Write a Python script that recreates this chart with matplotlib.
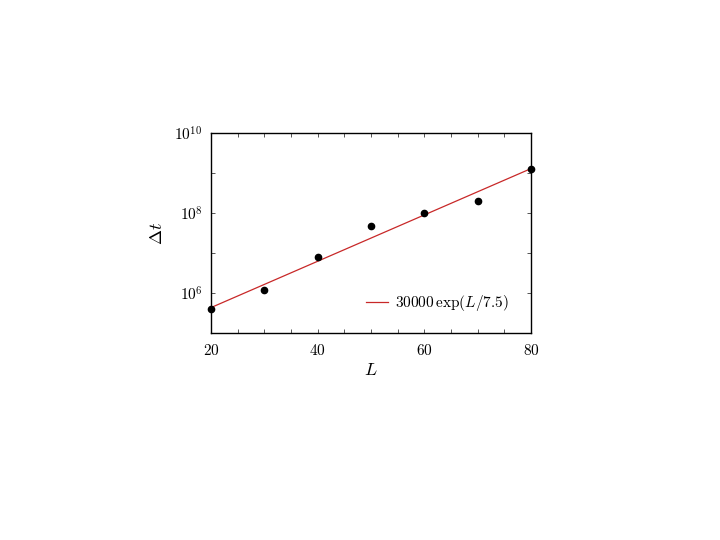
import numpy as np
import matplotlib
matplotlib.use("Agg")
import matplotlib.pyplot as plt
from matplotlib.ticker import FixedLocator, FixedFormatter

plt.rcParams['mathtext.fontset'] = 'cm'
plt.rcParams['font.family'] = 'serif'
plt.rcParams['font.serif'] = ['DejaVu Serif']

# data
L_vals = [20, 30, 40, 50, 60, 70, 80]
dt_vals = [4.0e5, 1.2e6, 7.8e6, 4.7e7, 1.02e8, 2.0e8, 1.26e9]

fit_amp = 30000
fit_scale = 7.5

x_ticks = [20, 40, 60, 80]
x_minor = [25, 30, 35, 45, 50, 55, 65, 70, 75]
y_ticks = [1e6, 1e8, 1e10]
y_minor = [1e7, 1e9]

fig = plt.figure(figsize=(7.2, 5.4), dpi=100)
ax = fig.add_axes([0.293, 0.3833, 0.4444, 0.3704])

Lfit = np.linspace(20, 80, 200)
ax.plot(Lfit, fit_amp * np.exp(Lfit / fit_scale), color='#c82828', lw=0.9,
        label=r'$30000\,\exp(L/7.5)$')
ax.plot(L_vals, dt_vals, 'o', color='black', ms=4.5, clip_on=False)

ax.set_yscale('log')
ax.set_xlim(20, 80)
ax.set_ylim(1e5, 1e10)

ax.xaxis.set_major_locator(FixedLocator(x_ticks))
ax.xaxis.set_major_formatter(FixedFormatter([f'${t}$' for t in x_ticks]))
ax.xaxis.set_minor_locator(FixedLocator(x_minor))
ax.yaxis.set_major_locator(FixedLocator(y_ticks))
ax.yaxis.set_major_formatter(FixedFormatter([r'$10^{6}$', r'$10^{8}$', r'$10^{10}$']))
ax.yaxis.set_minor_locator(FixedLocator(y_minor))
ax.yaxis.set_minor_formatter(FixedFormatter(['', '']))

ax.tick_params(which='both', direction='in', top=True, right=True, labelsize=11,
               length=3, width=0.7, color='#555555')
ax.tick_params(axis='x', pad=7)
ax.tick_params(axis='y', pad=6)

for s in ax.spines.values():
    s.set_linewidth(1.0)

ax.set_xlabel(r'$L$', fontsize=13, labelpad=2)
ax.set_ylabel(r'$\Delta t$', fontsize=13, labelpad=6)

ax.legend(loc='lower right', frameon=False, fontsize=11, handlelength=1.4,
          handletextpad=0.5, bbox_to_anchor=(0.975, 0.03))

fig.savefig('out.png', dpi=100)
